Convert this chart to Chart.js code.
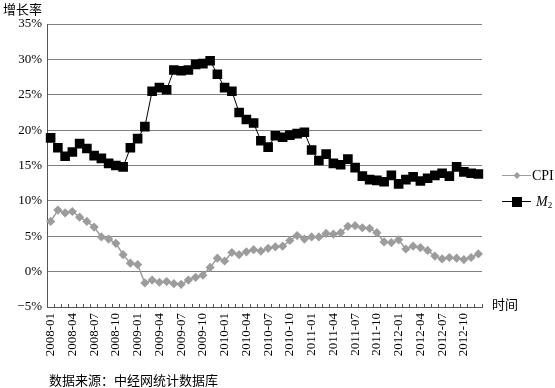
<!DOCTYPE html>
<html>
<head>
<meta charset="utf-8">
<script src="https://cdn.jsdelivr.net/npm/chart.js@4.4.0/dist/chart.umd.min.js"></script>
<style>
html,body{margin:0;padding:0;background:#fff;}
#wrap{width:555px;height:388px;}
</style>
</head>
<body>
<div id="wrap"><canvas id="c" width="555" height="388"></canvas></div>
<script>
const categories = [
"2008-01","2008-02","2008-03","2008-04","2008-05","2008-06","2008-07","2008-08","2008-09","2008-10","2008-11","2008-12",
"2009-01","2009-02","2009-03","2009-04","2009-05","2009-06","2009-07","2009-08","2009-09","2009-10","2009-11","2009-12",
"2010-01","2010-02","2010-03","2010-04","2010-05","2010-06","2010-07","2010-08","2010-09","2010-10","2010-11","2010-12",
"2011-01","2011-02","2011-03","2011-04","2011-05","2011-06","2011-07","2011-08","2011-09","2011-10","2011-11","2011-12",
"2012-01","2012-02","2012-03","2012-04","2012-05","2012-06","2012-07","2012-08","2012-09","2012-10","2012-11","2012-12"];
const tickLabels = ["2008-01","2008-04","2008-07","2008-10","2009-01","2009-04","2009-07","2009-10",
"2010-01","2010-04","2010-07","2010-10","2011-01","2011-04","2011-07","2011-10","2012-01","2012-04","2012-07","2012-10"];
const cpi = [
7.1, 8.7, 8.3, 8.5, 7.7, 7.1, 6.3, 4.9, 4.6, 4.0, 2.4, 1.2,
1.0, -1.6, -1.2, -1.5, -1.4, -1.7, -1.8, -1.2, -0.8, -0.5, 0.6, 1.9,
1.5, 2.7, 2.4, 2.8, 3.1, 2.9, 3.3, 3.5, 3.6, 4.4, 5.1, 4.6,
4.9, 4.9, 5.4, 5.3, 5.5, 6.4, 6.5, 6.2, 6.1, 5.5, 4.2, 4.1,
4.5, 3.2, 3.6, 3.4, 3.0, 2.2, 1.8, 2.0, 1.9, 1.7, 2.0, 2.5];
const m2 = [
18.9, 17.5, 16.3, 16.9, 18.1, 17.4, 16.4, 16.0, 15.3, 15.0, 14.8, 17.5,
18.8, 20.5, 25.5, 26.0, 25.7, 28.5, 28.4, 28.5, 29.3, 29.4, 29.8, 27.9,
26.0, 25.5, 22.5, 21.5, 21.0, 18.5, 17.6, 19.2, 19.0, 19.3, 19.5, 19.7,
17.2, 15.7, 16.6, 15.3, 15.1, 15.9, 14.7, 13.5, 13.0, 12.9, 12.7, 13.6,
12.4, 13.0, 13.4, 12.8, 13.2, 13.6, 13.9, 13.5, 14.8, 14.1, 13.9, 13.8];
const yTicks = [-5, 0, 5, 10, 15, 20, 25, 30, 35];

const SERIF = "'Liberation Serif', 'Times New Roman', serif";
const CJK = "'Noto Sans CJK SC', sans-serif";
const CPI_COLOR = '#9c9c9c';

const extras = {
  id: 'extras',
  afterDraw(chart) {
    const ctx = chart.ctx;
    ctx.save();
    ctx.fillStyle = '#000';
    ctx.textBaseline = 'middle';
    ctx.textAlign = 'left';
    ctx.font = "13px " + CJK;
    ctx.fillText('增长率', 3, 9);
    ctx.fillText('时间', 492, 304);
    ctx.fillText('数据来源：中经网统计数据库', 49, 380);
    // legend CPI
    ctx.strokeStyle = CPI_COLOR; ctx.lineWidth = 1;
    ctx.beginPath(); ctx.moveTo(502, 175.5); ctx.lineTo(531, 175.5); ctx.stroke();
    ctx.fillStyle = CPI_COLOR;
    ctx.beginPath(); ctx.moveTo(517, 172); ctx.lineTo(520.5, 175.5); ctx.lineTo(517, 179); ctx.lineTo(513.5, 175.5); ctx.closePath(); ctx.fill();
    ctx.fillStyle = '#000';
    ctx.font = "14px " + SERIF;
    ctx.fillText('CPI', 532, 176);
    // legend M2
    ctx.strokeStyle = '#000'; ctx.lineWidth = 1;
    ctx.beginPath(); ctx.moveTo(502, 201.5); ctx.lineTo(531, 201.5); ctx.stroke();
    ctx.fillRect(512, 197, 10, 10);
    ctx.font = "italic 14px " + SERIF;
    ctx.fillText('M', 536, 202);
    const w = ctx.measureText('M').width;
    ctx.font = "9px " + SERIF;
    ctx.fillText('2', 536 + w, 206);
    ctx.restore();
  }
};

new Chart(document.getElementById('c'), {
  type: 'line',
  data: {
    labels: categories,
    datasets: [
      {
        label: 'CPI', data: cpi,
        borderColor: CPI_COLOR, backgroundColor: CPI_COLOR, borderWidth: 1.5,
        pointStyle: 'rectRot', pointRadius: 4.6, pointBorderWidth: 0,
        pointBackgroundColor: CPI_COLOR, tension: 0
      },
      {
        label: 'M2', data: m2,
        borderColor: '#000', backgroundColor: '#000', borderWidth: 1,
        pointStyle: 'rect', pointRadius: 6.8, pointBorderWidth: 0,
        pointBackgroundColor: '#000', tension: 0
      }
    ]
  },
  options: {
    responsive: false,
    animation: false,
    devicePixelRatio: 1,
    layout: { padding: { left: 0, right: 73, top: 24, bottom: 0 } },
    plugins: { legend: { display: false }, tooltip: { enabled: false } },
    scales: {
      x: {
        type: 'category',
        offset: true,
        grid: { offset: true, drawOnChartArea: false, drawTicks: true, tickLength: -3, tickColor: '#555', lineWidth: 1 },
        border: { display: true, color: '#555', width: 1 },
        ticks: {
          autoSkip: false, maxRotation: 90, minRotation: 90, padding: 9,
          color: '#000', font: { family: SERIF, size: 13 },
          callback: function(v, i) { const l = categories[i]; return tickLabels.includes(l) ? l : ''; }
        },
        afterFit(scale) { scale.height = 81; }
      },
      y: {
        min: -5, max: 35,
        afterBuildTicks(scale) { scale.ticks = yTicks.map(v => ({ value: v })); },
        grid: { color: '#808080', lineWidth: 1, drawTicks: false },
        border: { display: true, color: '#555', width: 1 },
        ticks: {
          padding: 5, color: '#000', font: { family: SERIF, size: 13 },
          callback: v => (v < 0 ? '\u2212' + Math.abs(v) : v) + '%'
        },
        afterFit(scale) { scale.width = 47; }
      }
    }
  },
  plugins: [extras]
});
</script>
</body>
</html>
